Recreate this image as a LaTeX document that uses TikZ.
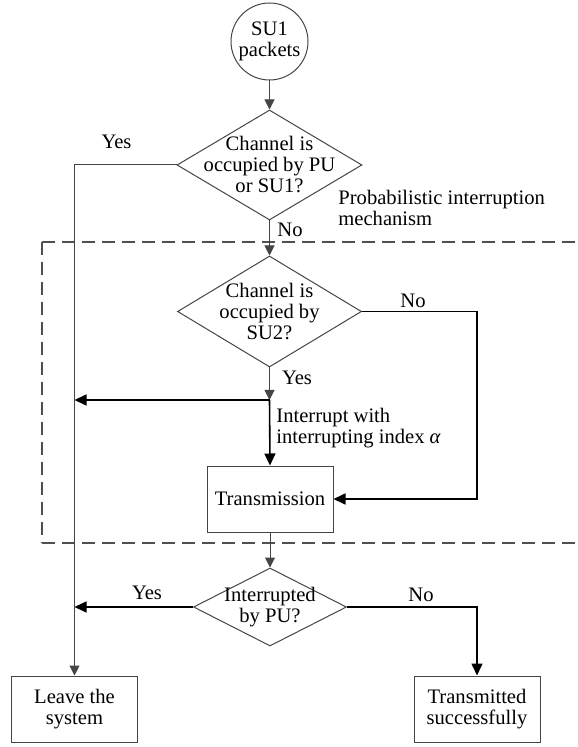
\documentclass[tikz,border=0pt]{standalone}
\usepackage{fontspec}
\setmainfont{Liberation Serif}
\usetikzlibrary{shapes.geometric,arrows.meta}
\definecolor{lg}{HTML}{454545}
\definecolor{dg}{HTML}{505050}
\begin{document}
\begin{tikzpicture}[x=0.5pt,y=-0.5pt,
  font=\rmfamily\fontsize{10.3}{10.5}\selectfont,
  gline/.style={draw=lg, line width=0.5pt},
  bline/.style={draw=black, line width=0.8pt},
  garrow/.style={gline, -{Triangle[length=5pt,width=5pt]}},
  barrow/.style={bline, -{Triangle[length=6pt,width=5.5pt]}},
  decision/.style={diamond, draw=lg, line width=0.5pt, inner sep=0pt},
  procbox/.style={rectangle, draw=lg, line width=0.5pt, minimum width=63pt, minimum height=33pt, align=center, inner sep=0pt},
  lbl/.style={inner sep=0pt, align=center},
  dashbox/.style={draw=dg, line width=1pt, dash pattern=on 6.5pt off 3.5pt},
]
\useasboundingbox (0,0) rectangle (577,747);
% dashed region
\draw[dashbox] (42,242) -- (600,242);
\draw[dashbox] (42,242) -- (42,543);
\draw[dashbox] (42,543) -- (600,543);
% nodes
\node[circle, draw=lg, line width=0.5pt, minimum size=38.5pt, inner sep=0pt, align=center] (src) at (269.5,41.5) {SU1\\packets};
\node[decision, minimum width=92.5pt, minimum height=55pt, label={[lbl]center:Channel is\\occupied by PU\\or SU1?}] (d1) at (269.5,165) {};
\node[decision, minimum width=92pt, minimum height=55.5pt, label={[lbl]center:Channel is\\occupied by\\SU2?}] (d2) at (269.5,311.5) {};
\node[procbox] (tx) at (270,499) {Transmission};
\node[decision, minimum width=76.5pt, minimum height=39pt, label={[lbl]center:Interrupted\\by PU?}] (d3) at (270,607) {};
\node[procbox] (leave) at (74.5,709) {Leave the\\system};
\node[procbox] (ok) at (477,709) {Transmitted\\successfully};
% helper coordinates
\coordinate (j1) at (269.5,400);
\coordinate (m1) at (74.5,400);
\coordinate (m2) at (74.5,607);
\coordinate (r1) at (477,499);
% connectors
\draw[garrow] (src) -- (d1);
\draw[garrow] (d1) -- (d2);
\draw[garrow] (d1.west) -| (leave.north);
\draw[garrow] (d2.south) -- (j1);
\draw[barrow] (j1) -- (m1);
\draw[barrow] (j1) -- (tx.north);
\draw[barrow] (d2.east) -| (r1) -- (tx.east);
\draw[garrow] (tx) -- (d3);
\draw[barrow] (d3.west) -- (m2);
\draw[barrow] (d3.east) -| (ok.north);
% labels
\node[lbl] (yes1) at (116.5,142) {Yes};
\node[lbl] (no1) at (290,230) {No};
\node[lbl, anchor=west, align=left] (prob) at (338,207.5) {Probabilistic interruption\\mechanism};
\node[lbl] (no2) at (413,301) {No};
\node[lbl] (yes2) at (297,378) {Yes};
\node[lbl, anchor=west, align=left] (intr) at (276,428) {Interrupt with\\interrupting index \textit{α}};
\node[lbl] (yes3) at (147,593) {Yes};
\node[lbl] (no3) at (421,595) {No};
\end{tikzpicture}
\end{document}
